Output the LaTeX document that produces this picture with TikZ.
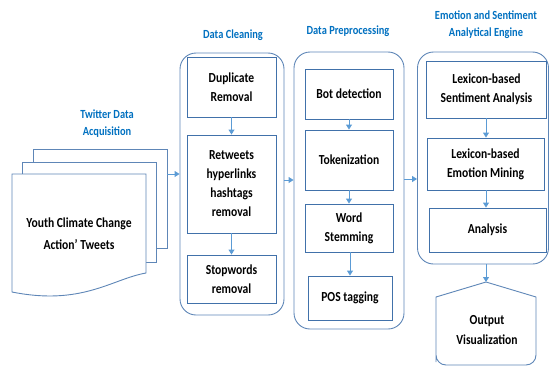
\documentclass[tikz,border=0pt]{standalone}
\usepackage{fontspec}
\setmainfont[FakeStretch=0.84]{Carlito}
\usetikzlibrary{arrows.meta}
\definecolor{boxc}{RGB}{65,113,170}
\definecolor{arrc}{RGB}{91,155,213}
\definecolor{lblc}{RGB}{0,112,192}
\tikzset{
  box/.style={draw=boxc, line width=0.9pt, fill=white, align=center, inner sep=2pt,
    font=\fontsize{13.8}{19}\selectfont\bfseries},
  cont/.style={draw=boxc!85, line width=0.9pt, rounded corners=16pt},
  lbl/.style={text=lblc, align=center, font=\fontsize{12.4}{16.5}\selectfont\bfseries},
  arr/.style={draw=arrc, line width=0.9pt, -{Triangle[width=6pt,length=5pt]}},
  sheet/.style={draw=boxc!85, line width=0.9pt, fill=white}
}
\begin{document}
\begin{tikzpicture}[x=1pt,y=-1pt]
\useasboundingbox (0,0) rectangle (551,372);
% containers
\node[cont, minimum width=104pt, minimum height=262pt] (clean) at (232,184) {};
\node[cont, minimum width=110pt, minimum height=277pt] (prep) at (349,190.5) {};
\node[cont, minimum width=131pt, minimum height=212pt] (eng) at (483,158) {};
% labels
\node[lbl] (lclean) at (233,35) {Data Cleaning};
\node[lbl] (lprep) at (348,31) {Data Preprocessing};
\node[lbl] (leng) at (486,24.5) {Emotion and Sentiment\\Analytical Engine};
\node[lbl] (ltw) at (107,123.5) {Twitter Data\\Acquisition};
% document stack
\draw[sheet] (33,149) -- (167,149) -- (167,248) -- (33,248) -- cycle;
\draw[sheet] (22,162) -- (156,162) -- (156,262) -- (22,262) -- cycle;
\draw[sheet] (12,174) -- (146,174) -- (146,273) .. controls (112,279) and (82,306) .. (12,292) -- cycle;
\coordinate (docr) at (167,174);
\node[align=center, font=\fontsize{13.8}{22}\selectfont\bfseries] (doc) at (79,233.5) {Youth Climate Change\\Action' Tweets};
% cleaning boxes
\node[box, minimum width=89pt, minimum height=60pt] (dup) at (231.5,87) {Duplicate\\Removal};
\node[box, minimum width=89pt, minimum height=98pt] (rt) at (231.5,184) {Retweets\\hyperlinks\\hashtags\\removal};
\node[box, minimum width=89pt, minimum height=48pt] (stop) at (231.5,279) {Stopwords\\removal};
% preprocessing boxes
\node[box, minimum width=88pt, minimum height=50pt] (bot) at (349,94) {Bot detection};
\node[box, minimum width=88pt, minimum height=60pt] (tok) at (349,160) {Tokenization};
\node[box, minimum width=88pt, minimum height=48pt] (stem) at (349,228) {Word\\Stemming};
\node[box, minimum width=84pt, minimum height=44pt] (pos) at (350,298) {POS tagging};
% engine boxes
\node[box, minimum width=120pt, minimum height=57pt] (lsa) at (486.5,89.5) {Lexicon-based\\Sentiment Analysis};
\node[box, minimum width=117pt, minimum height=52pt] (lem) at (485.5,164) {Lexicon-based\\Emotion Mining};
\node[box, minimum width=117pt, minimum height=44pt] (ana) at (487.5,230) {Analysis};
% output
\draw[draw=boxc!85, line width=0.9pt, fill=white, rounded corners=10pt]
  (486,282) [sharp corners] -- (536,297) -- (536,352) [rounded corners=10pt] -- (536,365) -- (436,365) -- (436,352) [sharp corners] -- (436,297) -- cycle;
\node[align=center, font=\fontsize{13.8}{20}\selectfont\bfseries] (out) at (487,330) {Output\\Visualization};
\coordinate (outtop) at (486,282);
% arrows
\draw[arr] (docr) -- (clean.west |- docr);
\draw[arr] (clean.east |- 0,180) -- (prep.west |- 0,180);
\draw[arr] (prep.east |- 0,179) -- (eng.west |- 0,179);
\draw[arr] (dup) -- (rt);
\draw[arr] (rt) -- (stop);
\draw[arr] (bot) -- (tok);
\draw[arr] (tok) -- (stem);
\draw[arr] (stem.south -| pos.north) -- (pos.north);
\draw[arr] (lsa.south -| 486,0) -- (lem.north -| 486,0);
\draw[arr] (lem.south -| 486,0) -- (ana.north -| 486,0);
\draw[arr] (eng.south -| outtop) -- (outtop);
\end{tikzpicture}
\end{document}
